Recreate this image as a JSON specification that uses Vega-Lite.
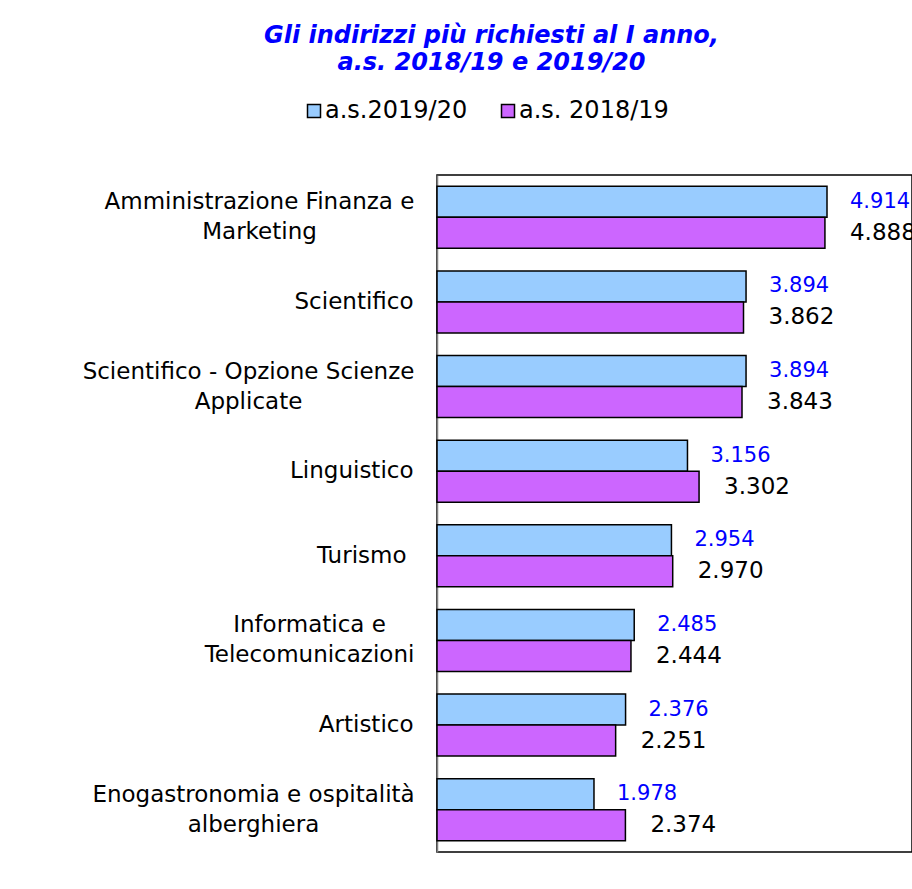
{
  "$schema": "https://vega.github.io/schema/vega-lite/v6.json",
  "width": 475,
  "height": 677,
  "autosize": {"type": "none"},
  "padding": {"left": 437, "top": 175, "right": 0, "bottom": 37},
  "background": "white",
  "config": {
    "locale": {"number": {"decimal": ",", "thousands": ".", "grouping": [3], "currency": ["€", ""]}},
    "font": "DejaVu Sans",
    "view": {"stroke": "#000000", "strokeWidth": 1.5}
  },
  "title": {
    "text": ["Gli indirizzi più richiesti al I anno,", "a.s. 2018/19 e 2019/20"],
    "fontSize": 24,
    "fontWeight": "bold",
    "fontStyle": "italic",
    "font": "DejaVu Sans",
    "color": "#0000ff",
    "anchor": "middle",
    "frame": "group",
    "dx": -183,
    "lineHeight": 27,
    "baseline": "top",
    "offset": 24
  },
  "data": {
    "values": [
      {"cat": "Amministrazione Finanza e|Marketing", "series": "a.s.2019/20", "value": 4914},
      {"cat": "Amministrazione Finanza e|Marketing", "series": "a.s. 2018/19", "value": 4888},
      {"cat": "Scientifico", "series": "a.s.2019/20", "value": 3894},
      {"cat": "Scientifico", "series": "a.s. 2018/19", "value": 3862},
      {"cat": "Scientifico - Opzione Scienze|Applicate", "series": "a.s.2019/20", "value": 3894},
      {"cat": "Scientifico - Opzione Scienze|Applicate", "series": "a.s. 2018/19", "value": 3843},
      {"cat": "Linguistico", "series": "a.s.2019/20", "value": 3156},
      {"cat": "Linguistico", "series": "a.s. 2018/19", "value": 3302},
      {"cat": "Turismo ", "series": "a.s.2019/20", "value": 2954},
      {"cat": "Turismo ", "series": "a.s. 2018/19", "value": 2970},
      {"cat": "Informatica e|Telecomunicazioni", "series": "a.s.2019/20", "value": 2485},
      {"cat": "Informatica e|Telecomunicazioni", "series": "a.s. 2018/19", "value": 2444},
      {"cat": "Artistico", "series": "a.s.2019/20", "value": 2376},
      {"cat": "Artistico", "series": "a.s. 2018/19", "value": 2251},
      {"cat": "Enogastronomia e ospitalità|alberghiera", "series": "a.s.2019/20", "value": 1978},
      {"cat": "Enogastronomia e ospitalità|alberghiera", "series": "a.s. 2018/19", "value": 2374}
    ]
  },
  "encoding": {
    "y": {
      "field": "cat",
      "type": "nominal",
      "sort": null,
      "scale": {"paddingInner": 0.267, "paddingOuter": 0.134},
      "axis": {
        "title": null,
        "ticks": false,
        "domainColor": "#808080",
        "domainWidth": 1.5,
        "labelFontSize": 23,
        "labelFont": "DejaVu Sans",
        "labelColor": "#000000",
        "labelLineHeight": 30,
        "labelLimit": 0,
        "labelExpr": "split(datum.label, '|')",
        "labelAlign": {"expr": "indexof(datum.value, '|') >= 0 ? 'center' : 'right'"},
        "labelPadding": {"expr": "datum.value === 'Amministrazione Finanza e|Marketing' ? 178 : datum.value === 'Scientifico - Opzione Scienze|Applicate' ? 189 : datum.value === 'Informatica e|Telecomunicazioni' ? 128 : datum.value === 'Enogastronomia e ospitalità|alberghiera' ? 184 : datum.value === 'Turismo ' ? 31 : 24"},
        "labelOffset": {"expr": "indexof(datum.value, '|') >= 0 ? -15 : 0"}
      }
    },
    "yOffset": {
      "field": "series",
      "type": "nominal",
      "sort": ["a.s.2019/20", "a.s. 2018/19"],
      "scale": {"paddingInner": 0, "paddingOuter": 0}
    },
    "x": {
      "field": "value",
      "type": "quantitative",
      "scale": {"domain": [0, 5985], "nice": false, "zero": true},
      "axis": null
    }
  },
  "layer": [
    {
      "mark": {"type": "bar", "stroke": "#000000", "strokeWidth": 1.5},
      "encoding": {
        "fill": {
          "field": "series",
          "type": "nominal",
          "scale": {"domain": ["a.s.2019/20", "a.s. 2018/19"], "range": ["#99ccff", "#cc66ff"]},
          "legend": {
            "title": null,
            "orient": "none",
            "legendX": -135,
            "legendY": -76,
            "direction": "horizontal",
            "padding": 0,
            "symbolType": "square",
            "symbolSize": 169,
            "symbolStrokeColor": "#000000",
            "symbolStrokeWidth": 1.5,
            "labelFontSize": 24,
            "labelFont": "DejaVu Sans",
            "labelColor": "#000000",
            "labelOffset": -1,
            "columnPadding": 28
          }
        }
      }
    },
    {
      "transform": [{"filter": "datum.series === 'a.s.2019/20'"}],
      "mark": {"type": "text", "align": "left", "baseline": "middle", "dx": 23, "font": "DejaVu Sans", "fontSize": 21, "color": "#0000ff"},
      "encoding": {
        "text": {"field": "value", "type": "quantitative", "format": ",d"}
      }
    },
    {
      "transform": [{"filter": "datum.series === 'a.s. 2018/19'"}],
      "mark": {"type": "text", "align": "left", "baseline": "middle", "dx": 25, "font": "DejaVu Sans", "fontSize": 23, "color": "#000000"},
      "encoding": {
        "text": {"field": "value", "type": "quantitative", "format": ",d"}
      }
    }
  ]
}
